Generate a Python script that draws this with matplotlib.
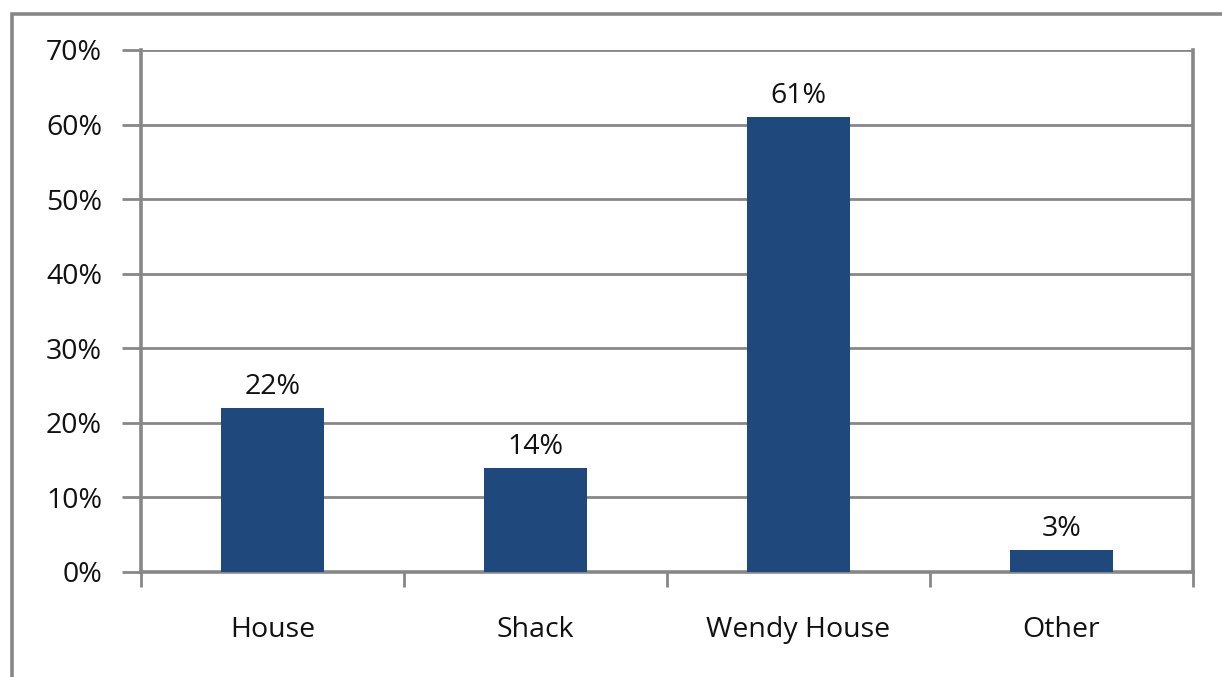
import matplotlib
matplotlib.use("Agg")
import matplotlib.pyplot as plt
from matplotlib.patches import Rectangle
from matplotlib.ticker import FixedLocator

categories = ["House", "Shack", "Wendy House", "Other"]
values = [22, 14, 61, 3]
yticks = [0, 10, 20, 30, 40, 50, 60, 70]

plt.rcParams['font.family'] = ['Open Sans', 'DejaVu Sans']
W, H = 1222, 677
fig = plt.figure(figsize=(W / 100, H / 100), dpi=100)
fig.patch.set_facecolor("white")

grey = "#878787"
fs = 20.5
# outer chart frame (clipped at right/bottom)
fig.add_artist(Rectangle((12 / W, -0.05), 1.2, 1 - 14 / H + 0.05,
                         transform=fig.transFigure, fill=False,
                         edgecolor=grey, linewidth=2.6))

ax = fig.add_axes([141 / W, 1 - 572 / H, (1193 - 141) / W, (572 - 50) / H])
x = list(range(len(categories)))
ax.bar(x, values, width=0.39, color="#1F497D", zorder=3)
for xi, v in zip(x, values):
    ax.text(xi, v + 0.9, f"{v}%", ha="center", va="bottom", fontsize=fs, color="#111111")

ax.set_xlim(-0.5, len(categories) - 0.5)
ax.set_ylim(0, 70)
ax.set_yticks(yticks)
ax.set_yticklabels([f"{t}%" for t in yticks], fontsize=fs, color="#111111")
ax.set_xticks(x)
ax.set_xticklabels(categories, fontsize=fs, color="#111111")
ax.xaxis.set_minor_locator(FixedLocator([i - 0.5 for i in range(len(categories) + 1)]))
ax.tick_params(axis="x", which="major", length=0, pad=32)
ax.tick_params(axis="x", which="minor", length=11, width=2, color=grey, direction="out")
ax.tick_params(axis="y", which="major", length=14, width=2, color=grey, pad=14)

ax.yaxis.grid(True, color=grey, linewidth=2, zorder=0)
ax.set_axisbelow(True)
for s in ["left", "right", "bottom"]:
    ax.spines[s].set_color(grey)
    ax.spines[s].set_linewidth(2.6)
ax.spines["top"].set_visible(False)

fig.savefig("out.png", dpi=100, facecolor="white")
